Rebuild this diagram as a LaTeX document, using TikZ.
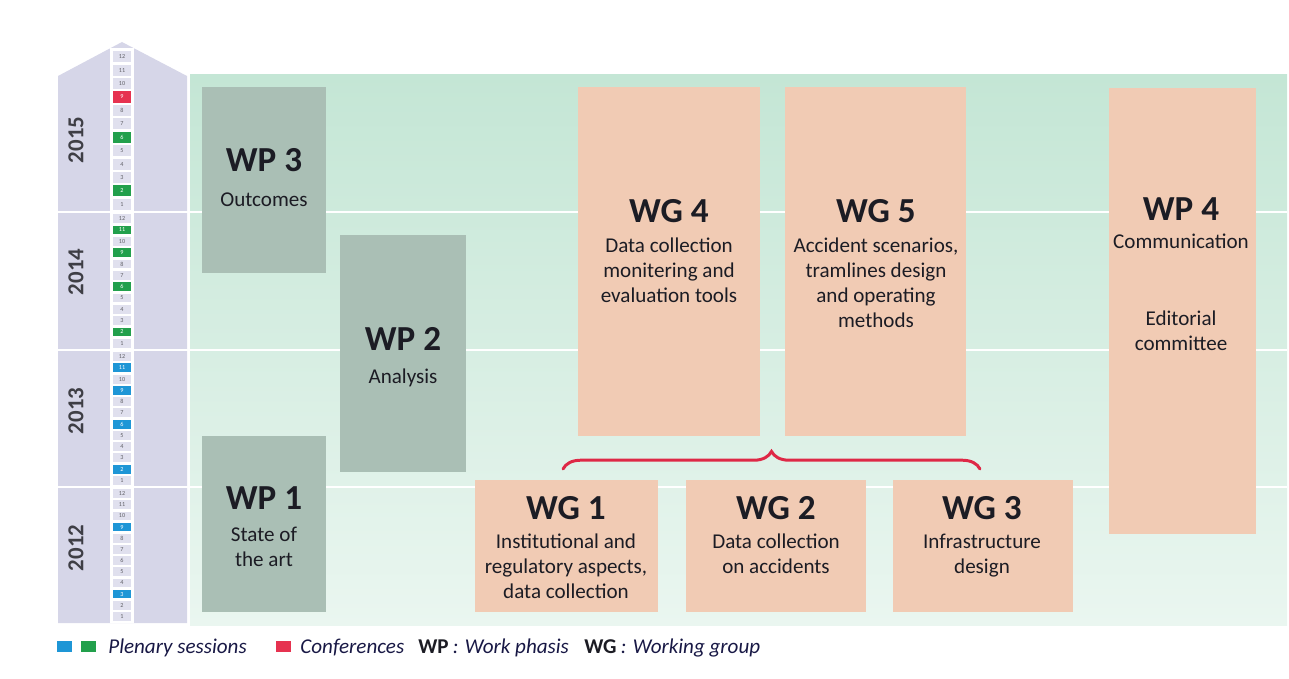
\documentclass[tikz,border=0pt]{standalone}
\usepackage{fontspec}
\setmainfont{Carlito}
\usetikzlibrary{positioning,decorations.pathreplacing}

\definecolor{band}{RGB}{214,214,232}
\definecolor{minttop}{RGB}{196,230,213}
\definecolor{mintbot}{RGB}{234,246,240}
\definecolor{wpgray}{RGB}{170,191,181}
\definecolor{wgsalmon}{RGB}{241,203,180}
\definecolor{plenblue}{RGB}{30,150,214}
\definecolor{plengreen}{RGB}{34,160,76}
\definecolor{confred}{RGB}{230,50,80}
\definecolor{ink}{RGB}{28,28,36}
\definecolor{bracered}{RGB}{222,40,70}

\tikzset{
  boxtitle/.style={anchor=base, inner sep=0pt, text=ink, font=\fontsize{20}{22}\selectfont\bfseries},
  boxsub/.style={anchor=base, inner sep=0pt, align=center, text=ink, font=\fontsize{12}{14.2}\selectfont},
  yearlabel/.style={rotate=90, inner sep=0pt, text=ink!85, font=\fontsize{13}{15}\selectfont\bfseries},
  monthcell/.style={draw=white, line width=0.8pt, fill=band!75!white, inner sep=0pt, minimum width=0.38cm, text=ink!70, font=\fontsize{3.5}{4}\selectfont},
  swatch/.style={minimum width=0.3cm, minimum height=0.22cm, inner sep=0pt},
  legtext/.style={anchor=base west, inner sep=0pt, text=ink!85!blue, font=\fontsize{12}{14}\selectfont\itshape},
  legkey/.style={anchor=base west, inner sep=0pt, text=ink, font=\fontsize{12}{14}\selectfont\bfseries},
}

\begin{document}
\begin{tikzpicture}[x=0.02cm, y=-0.02cm]
\useasboundingbox (0,0) rectangle (1289,679);

% timeline band with its pointed top
\fill[band] (58,623) -- (58,76) -- (122,42) -- (187,76) -- (187,623) -- cycle;
% main area
\shade[top color=minttop, bottom color=mintbot] (190,75) rectangle (1287,625);
% year lines
\foreach \yy in {212,350,487}
  \draw[white, line width=1.2pt] (58,\yy) -- (1287,\yy);

% month column
\fill[white] (110,48) rectangle (134,623);
\foreach \yr/\ytop/\ybot/\hits/\hitcol in {2015/50/211/{2,6}/plengreen,
    2014/213/349/{2,6,9,11}/plengreen, 2013/351/486/{2,6,9,11}/plenblue,
    2012/488/622/{3,9}/plenblue}{
  \pgfmathsetmacro\h{(\ybot-\ytop)/12}
  \foreach \m in {1,...,12}
    \node[monthcell, minimum height={(\h-1)*0.02cm}] (c\yr-\m) at (122,{\ybot-(\m-0.5)*\h}) {\m};
  \foreach \m in \hits
    \node[monthcell, fill=\hitcol, text=white, minimum height={(\h-1)*0.02cm}] (h\yr-\m) at (c\yr-\m) {\m};
}
\node[monthcell, fill=confred, text=white, minimum height=0.25cm] (h2015-9) at (c2015-9) {9};

% years
\node[yearlabel] (y2015) at (76,140) {2015};
\node[yearlabel] (y2014) at (76,272) {2014};
\node[yearlabel] (y2013) at (76,411) {2013};
\node[yearlabel] (y2012) at (76,548) {2012};

% work phases
\fill[wpgray] (202,87) rectangle (326,273);
\fill[wpgray] (340,235) rectangle (466,472);
\fill[wpgray] (202,436) rectangle (326,612);
% working groups
\fill[wgsalmon] (578,87) rectangle (760,436);
\fill[wgsalmon] (785,87) rectangle (966,436);
\fill[wgsalmon] (1109,88) rectangle (1256,534);
\fill[wgsalmon] (475,480) rectangle (658,612);
\fill[wgsalmon] (686,480) rectangle (866,612);
\fill[wgsalmon] (893,480) rectangle (1073,612);

% texts (base = last line)
\node[boxtitle] (wp3) at (264,172) {WP 3};
\node[boxsub] (wp3-sub) at (264,207) {Outcomes};
\node[boxtitle] (wp2) at (403,350) {WP 2};
\node[boxsub] (wp2-sub) at (403,383) {Analysis};
\node[boxtitle] (wp1) at (264,509) {WP 1};
\node[boxsub] (wp1-sub) at (264,566) {State of\\the art};
\node[boxtitle] (wg4) at (669,222) {WG 4};
\node[boxsub] (wg4-sub) at (669,302) {Data collection\\monitering and\\evaluation tools};
\node[boxtitle] (wg5) at (876,222) {WG 5};
\node[boxsub] (wg5-sub) at (876,327) {Accident scenarios,\\tramlines design\\and operating\\methods};
\node[boxtitle] (wp4) at (1181,220) {WP 4};
\node[boxsub] (wp4-sub) at (1181,249) {Communication};
\node[boxsub] (wp4-ed) at (1181,350) {Editorial\\committee};
\node[boxtitle] (wg1) at (566,519) {WG 1};
\node[boxsub] (wg1-sub) at (566,598) {Institutional and\\regulatory aspects,\\data collection};
\node[boxtitle] (wg2) at (776,519) {WG 2};
\node[boxsub] (wg2-sub) at (776,573) {Data collection\\on accidents};
\node[boxtitle] (wg3) at (982,519) {WG 3};
\node[boxsub] (wg3-sub) at (982,573) {Infrastructure\\design};

% brace over WG 1-3
\coordinate (brl) at (563,469);
\coordinate (brr) at (980,469);
\draw[bracered, line width=1.7pt, line cap=round, decorate, decoration={brace, amplitude=10pt}] (brl) -- (brr);

% legend
\node[swatch, fill=plenblue] (sw-blue) at (64.5,646.5) {};
\node[swatch, fill=plengreen] (sw-green) at (88.5,646.5) {};
\node[legtext] (plen) at (108,653) {Plenary sessions};
\node[swatch, fill=confred] (sw-red) at (283,646.5) {};
\node[legtext] (conf) at (300,653) {Conferences};
\node[legkey] (wpkey) at (418,653) {WP};
\node[legtext, right=2pt of wpkey.base east, anchor=base west] (wptext) {: Work phasis};
\node[legkey] (wgkey) at (584,653) {WG};
\node[legtext, right=2pt of wgkey.base east, anchor=base west] (wgtext) {: Working group};
\end{tikzpicture}
\end{document}
